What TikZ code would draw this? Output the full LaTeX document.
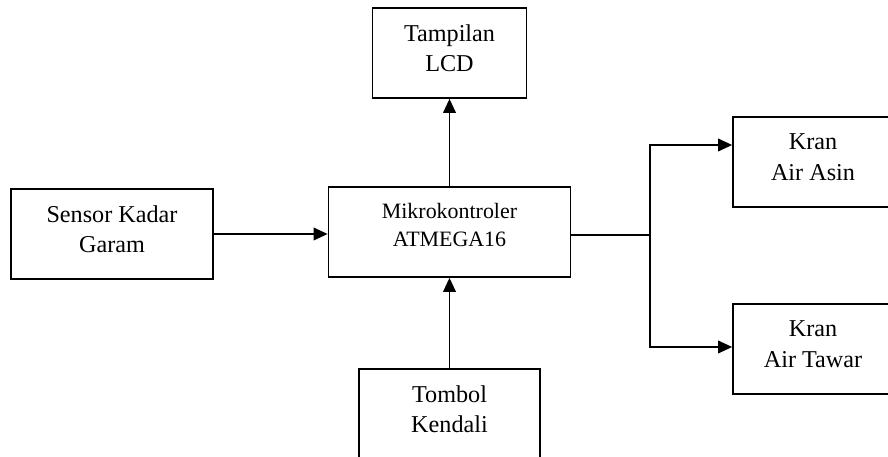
\documentclass[tikz,border=0pt]{standalone}
\usepackage{fontspec}
\setmainfont{Liberation Serif}
\usetikzlibrary{positioning, arrows.meta}

\begin{document}
\begin{tikzpicture}[x=0.025cm, y=-0.025cm,
        blok/.style={rectangle, draw, line width=1.2pt, align=center, text depth=7pt,
            font=\fontsize{17.2}{21.5}\selectfont},
        panah/.style={line width=1.2pt, -{Triangle[length=10pt, width=9pt]}}]
        \useasboundingbox (0,0) rectangle (888,457);
        \clip (0,0) rectangle (888,457);
        \node[blok, minimum width=3.85cm, minimum height=2.25cm] (lcd) at (449.5,53) {Tampilan\\LCD};
        \node[blok, minimum width=5.05cm, minimum height=2.25cm] (sensor) at (112,234) {Sensor Kadar\\Garam};
        \node[blok, minimum width=6.05cm, minimum height=2.25cm, text depth=10pt,
            font=\fontsize{15.6}{20}\selectfont] (mcu) at (449.5,232) {Mikrokontroler\\ATMEGA16};
        \node[blok, minimum width=4cm, minimum height=2.25cm] (asin) at (813,162) {Kran\\Air Asin};
        \node[blok, minimum width=4cm, minimum height=2.25cm] (tawar) at (813,349) {Kran\\Air Tawar};
        \node[blok, minimum width=4.52cm, minimum height=2.25cm] (tombol) at (449.5,414) {Tombol\\Kendali};
        \coordinate (cabang) at (650,235);
        \draw[panah] (sensor.east) -- (sensor.east -| mcu.west);
        \draw[panah] (mcu) -- (lcd);
        \draw[panah] (tombol) -- (mcu);
        \draw[line width=1.2pt] (mcu.east |- cabang) -- (cabang);
        \draw[panah] (cabang) |- ([yshift=0.425cm]asin.west);
        \draw[panah] (cabang) |- ([yshift=0.05cm]tawar.west);
\end{tikzpicture}
\end{document}
